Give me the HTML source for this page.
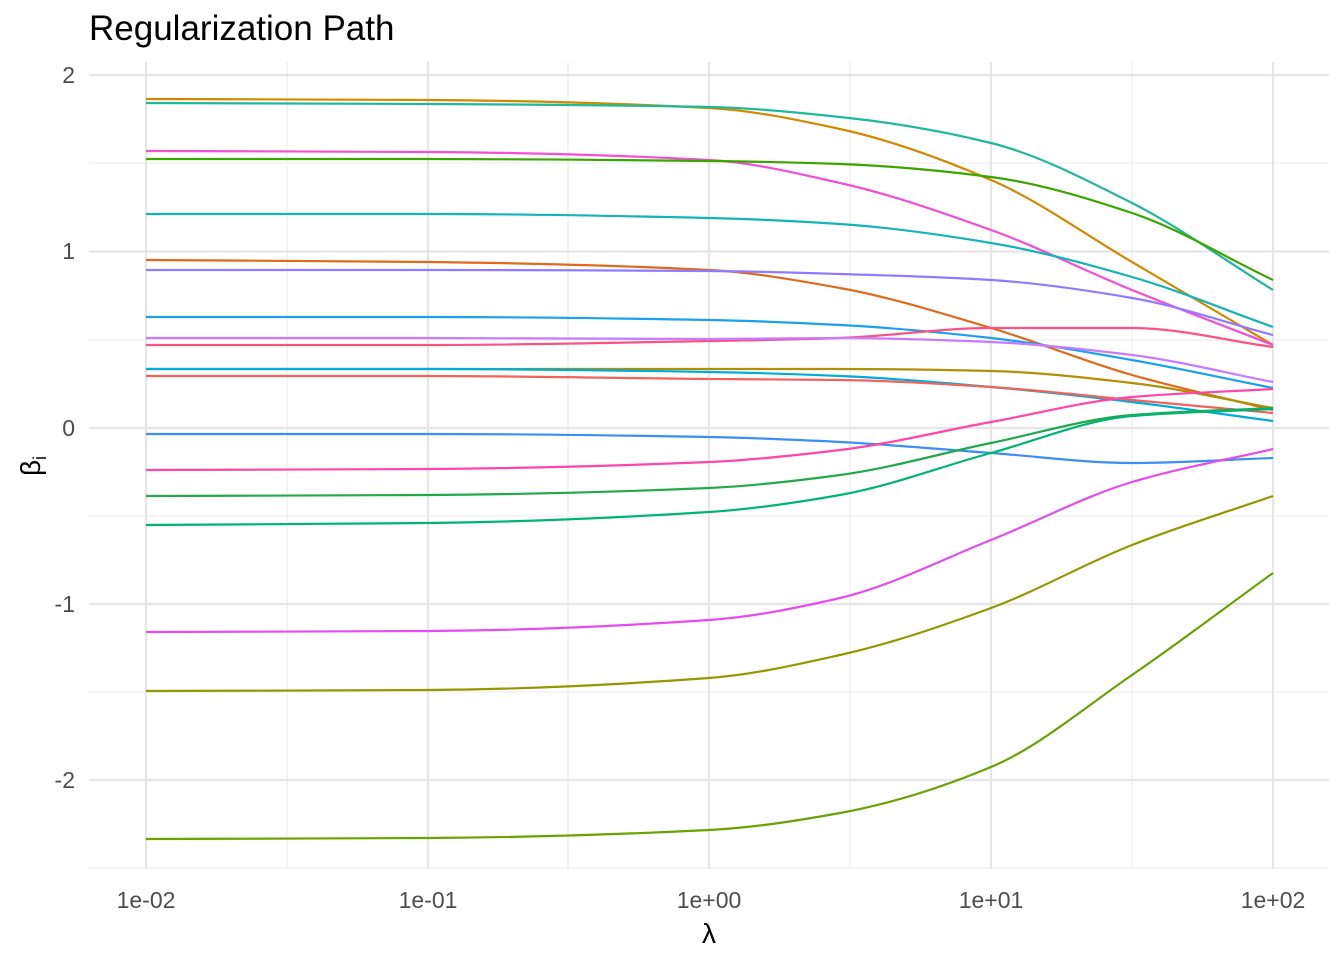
<!DOCTYPE html>
<html><head><meta charset="utf-8"><style>
body{margin:0;background:#fff;}
svg{display:block;font-family:"Liberation Sans",Arial,sans-serif;}
</style></head><body>
<svg id="s" width="1344" height="960" viewBox="0 0 1344 960" xmlns="http://www.w3.org/2000/svg">
<rect width="1344" height="960" fill="#fff"/>
<g stroke="#ebebeb" stroke-width="1.1" fill="none">
<line x1="89" x2="1329" y1="163" y2="163"/><line x1="89" x2="1329" y1="340" y2="340"/><line x1="89" x2="1329" y1="516" y2="516"/><line x1="89" x2="1329" y1="692" y2="692"/><line x1="89" x2="1329" y1="868" y2="868"/>
<line y1="62" y2="869" x1="287" x2="287"/><line y1="62" y2="869" x1="568" x2="568"/><line y1="62" y2="869" x1="850" x2="850"/><line y1="62" y2="869" x1="1132" x2="1132"/>
</g>
<g stroke="#e6e6e6" stroke-width="2.2" fill="none">
<line x1="89" x2="1329" y1="75" y2="75"/><line x1="89" x2="1329" y1="251.5" y2="251.5"/><line x1="89" x2="1329" y1="428" y2="428"/><line x1="89" x2="1329" y1="604" y2="604"/><line x1="89" x2="1329" y1="780" y2="780"/>
<line y1="62" y2="869" x1="146" x2="146"/><line y1="62" y2="869" x1="428" x2="428"/><line y1="62" y2="869" x1="709" x2="709"/><line y1="62" y2="869" x1="991" x2="991"/><line y1="62" y2="869" x1="1273" x2="1273"/>
</g>
<g id="lines" fill="none" stroke-width="2.2"></g>
<g fill="#4d4d4d" font-size="23" text-anchor="end">
<text x="75" y="83">2</text><text x="75" y="259">1</text><text x="75" y="436">0</text><text x="75" y="612">-1</text><text x="75" y="788">-2</text>
</g>
<g fill="#4d4d4d" font-size="23" text-anchor="middle">
<text x="146" y="908">1e-02</text><text x="428" y="908">1e-01</text><text x="709" y="908">1e+00</text><text x="991" y="908">1e+01</text><text x="1273" y="908">1e+02</text>
</g>
<text x="709" y="943" font-size="28" text-anchor="middle" fill="#000">λ</text>
<g transform="translate(40,466) rotate(-90)"><text x="0" y="0" font-size="28" text-anchor="middle" fill="#000">β<tspan font-size="18" dy="6">i</tspan></text></g>
<text x="89" y="40" font-size="35" fill="#000">Regularization Path</text>
</svg>
<script>
var X=[146,428,709,840,991,1132,1273];
var S=[
["#D08A00",[99,100,108,129,180,262,345]],
["#1FB89A",[103,104,107,117,143,203,290]],
["#F24FD5",[151,152,160,183,230,290,345]],
["#39A600",[159,159,161,164,177,213,280]],
["#14B3B8",[214,214,218,224,243,277,327]],
["#E06A1C",[260,262,270,288,328,375,410]],
["#8E7BFF",[270,270,271,274,280,298,335]],
["#1AA0EE",[317,317,320,325,338,360,388]],
["#FA5285",[345,345,341,338,328,328,347]],
["#C77CFF",[338,338,339,338,342,355,382]],
["#B0900A",[369,369,369,369,371,383,408]],
["#00ADD8",[369,369,372,376,387,402,421]],
["#F1625A",[376,376,379,380,387,400,413]],
["#3A8FF0",[434,434,437,442,453,463,458]],
["#FF45A8",[470,469,462,450,422,397,389]],
["#24A84C",[496,495,488,475,443,415,408]],
["#00B476",[525,523,512,495,453,416,409]],
["#E34DF0",[632,631,620,598,540,482,449]],
["#949800",[691,690,678,655,608,545,496]],
["#6BA100",[839,838,830,813,767,675,573]]
];
function mono(x,y){var n=x.length,d=[],m=[];
for(var i=0;i<n-1;i++)d.push((y[i+1]-y[i])/(x[i+1]-x[i]));
m[0]=d[0];m[n-1]=d[n-2];
for(i=1;i<n-1;i++){if(d[i-1]*d[i]<=0)m[i]=0;else{var w1=2*(x[i+1]-x[i])+(x[i]-x[i-1]),w2=(x[i+1]-x[i])+2*(x[i]-x[i-1]);m[i]=(w1+w2)/(w1/d[i-1]+w2/d[i]);}}
var p='M'+x[0]+','+y[0];
for(i=0;i<n-1;i++){var h=x[i+1]-x[i];
p+=' C'+(x[i]+h/3).toFixed(1)+','+(y[i]+m[i]*h/3).toFixed(1)+' '+(x[i+1]-h/3).toFixed(1)+','+(y[i+1]-m[i+1]*h/3).toFixed(1)+' '+x[i+1]+','+y[i+1];}
return p;}
var g=document.getElementById('lines'),h='';
S.forEach(function(s){h+='<path d="'+mono(X,s[1])+'" stroke="'+s[0]+'"/>';});
g.innerHTML=h;
</script>
</body></html>
